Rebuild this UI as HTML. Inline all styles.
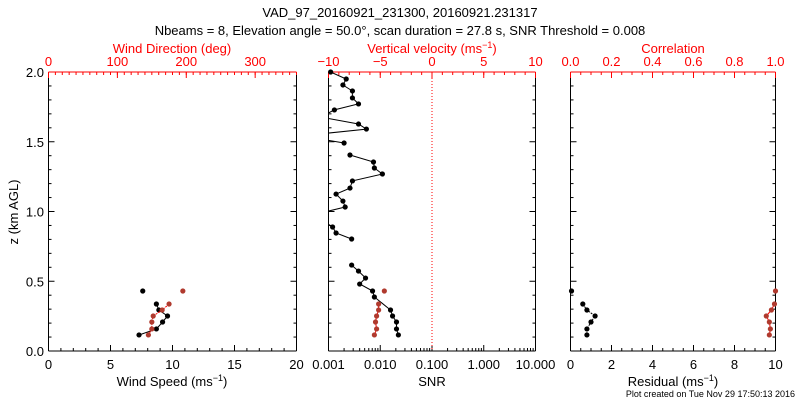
<!DOCTYPE html>
<html><head><meta charset="utf-8"><style>
body{margin:0;background:#fff;}
svg{display:block;font-family:"Liberation Sans",sans-serif;}
</style></head><body>
<svg id="chart" width="800" height="400" viewBox="0 0 800 400">
<rect width="800" height="400" fill="#fff"/>
<text x="400" y="17" text-anchor="middle" font-size="13">VAD_97_20160921_231300, 20160921.231317</text>
<text x="400" y="35" text-anchor="middle" font-size="13">Nbeams = 8, Elevation angle = 50.0°, scan duration = 27.8 s, SNR Threshold = 0.008</text>
<text x="795" y="397" text-anchor="end" font-size="9">Plot created on Tue Nov 29 17:50:13 2016</text>
</svg>
<script>
// ---- data ----
const windHeights = [0.430, 0.337, 0.294, 0.251, 0.208, 0.158, 0.115];
const windSpeed = [7.6, 8.7, 8.9, 9.6, 9.2, 8.7, 7.3];
const windDir = [195, 175, 165, 152, 150, 150, 145];
const snrHeights = [2.0,1.950,1.907,1.864,1.814,1.771,1.728,1.677,1.627,1.591,1.556,1.520,1.491,1.448,1.405,1.355,1.312,1.269,1.219,1.168,1.125,1.075,1.032,0.989,0.946,0.889,0.846,0.803,0.710,0.616,0.573,0.523,0.480,0.430,0.387,0.294,0.251,0.208,0.158,0.115];
const snrValues = [0.0011,0.0022,0.0019,0.0029,0.0029,0.0038,0.0013,0.0007,0.0038,0.0054,0.0007,0.0007,0.0020,null,0.0026,0.0074,0.0077,0.011,0.0029,0.0026,0.0014,0.0019,0.0021,0.0007,0.0007,0.0012,0.0014,0.0028,null,0.0028,0.0038,0.0052,0.0040,0.0071,0.0077,0.0158,0.0173,0.0206,0.0206,0.0224];
const snrRedHeights = [0.430, 0.337, 0.294, 0.251, 0.208, 0.158, 0.115];
const snrRedValues = [0.012, 0.0093, 0.0093, 0.0085, 0.0081, 0.0085, 0.0077];
const residual = [0.05, 0.6, 0.8, 1.2, 1.0, 0.8, 0.8];
const correlation = [1.0, 0.995, 0.98, 0.955, 0.97, 0.975, 0.97];
const yTicks = ["0.0","0.5","1.0","1.5","2.0"];
const p1Bottom = ["0","5","10","15","20"];
const p1Top = ["0","100","200","300"];
const p2Bottom = ["0.001","0.010","0.100","1.000","10.000"];
const p2Top = ["−10","−5","0","5","10"];
const p3Bottom = ["0","2","4","6","8","10"];
const p3Top = ["0.0","0.2","0.4","0.6","0.8","1.0"];

const svg = document.getElementById('chart');
const NS = 'http://www.w3.org/2000/svg';
const TOP = 72, BOT = 351;
const yS = z => BOT - z / 2 * (BOT - TOP);
function mk(tag, attrs, parent) {
  const e = document.createElementNS(NS, tag);
  for (const k in attrs) e.setAttribute(k, attrs[k]);
  (parent || svg).appendChild(e);
  return e;
}
function lin(x0, x1, a, b) { return v => x0 + (v - a) / (b - a) * (x1 - x0); }
const panels = [
  {x0: 48.5, x1: 296.5, name: 'wind'},
  {x0: 328.5, x1: 535.5, name: 'snr'},
  {x0: 570.5, x1: 775.5, name: 'residual'}
];
function axisTicks(g, xs, major, minor, col, bottom) {
  const y = bottom ? BOT : TOP, d = bottom ? -1 : 1;
  minor.forEach(v => mk('line', {x1: xs(v), x2: xs(v), y1: y, y2: y + d * 3, stroke: col, 'stroke-width': 1}, g));
  major.forEach(v => mk('line', {x1: xs(v), x2: xs(v), y1: y, y2: y + d * 6, stroke: col, 'stroke-width': 1}, g));
}
function range(a, b, s) { const r = []; for (let v = a; v <= b + 1e-9; v += s) r.push(+v.toFixed(6)); return r; }

panels.forEach((p, i) => {
  const g = mk('g', {});
  
  
  p.g = g;
  // y ticks
  range(0, 2, 0.1).forEach(z => {
    const L = Math.abs(z * 2 - Math.round(z * 2)) < 1e-6 ? 6 : 3;
    mk('line', {x1: p.x0, x2: p.x0 + L, y1: yS(z), y2: yS(z), stroke: '#000'}, g);
    mk('line', {x1: p.x1, x2: p.x1 - L, y1: yS(z), y2: yS(z), stroke: '#000'}, g);
  });
  mk('line', {x1: p.x0, x2: p.x0, y1: TOP, y2: BOT, stroke: '#000'}, g);
  mk('line', {x1: p.x1, x2: p.x1, y1: TOP, y2: BOT, stroke: '#000'}, g);
  mk('line', {x1: p.x0, x2: p.x1, y1: BOT, y2: BOT, stroke: '#000'}, g);
  mk('line', {x1: p.x0, x2: p.x1, y1: TOP, y2: TOP, stroke: '#f00'}, g);
});

// y labels
const yl = mk('g', {'font-size': 13, 'text-anchor': 'end'});


yTicks.forEach(t => { const e = mk('text', {x: 44, y: yS(+t) + 5}, yl); e.textContent = t; });
const yt = mk('text', {x: 0, y: 0, 'font-size': 13, 'text-anchor': 'middle', transform: 'translate(18,212) rotate(-90)'});
yt.textContent = 'z (km AGL)';



function labels(g, xs, vals, strs, y, col) {
  strs.forEach((s, k) => { const e = mk('text', {x: xs(vals[k]), y: y, 'text-anchor': 'middle', 'font-size': 13, fill: col}, g); e.textContent = s; });
}
function title(g, x, y, col, html, name) {
  const e = mk('text', {x: x, y: y, 'text-anchor': 'middle', 'font-size': 13, fill: col}, g);
  e.innerHTML = html;
  
  
}
function marker(g, x, y, col) { mk('circle', {cx: x, cy: y, r: 2.6, fill: col}, g); }
function series(g, xs, zs, vs, col, dash, breakFirst, clip) {
  let d = '';
  let pen = false;
  zs.forEach((z, k) => {
    const v = vs[k];
    if (v === null || (breakFirst && k === 0)) { pen = false; if (v !== null) {} return; }
    d += (pen ? 'L' : 'M') + xs(v).toFixed(1) + ' ' + yS(z).toFixed(1);
    pen = true;
  });
  const a = {d: d, fill: 'none', stroke: col, 'stroke-width': 1};
  if (dash) a['stroke-dasharray'] = '2 1';
  if (clip) a['clip-path'] = 'url(#' + clip + ')';
  mk('path', a, g);
  zs.forEach((z, k) => { const v = vs[k]; if (v === null) return; const x = xs(v); if (clip && x < xs.min - 0.5) return; marker(g, x, yS(z), col); });
}
const RED = '#f00', BR = '#b03a2e';

// Panel 1
{
  const p = panels[0], g = p.g;
  const xb = lin(p.x0, p.x1, 0, 20), xt = lin(p.x0, p.x1, 0, 360);
  axisTicks(g, xb, range(0, 20, 5), range(0, 20, 1), '#000', true);
  axisTicks(g, xt, range(0, 300, 100), range(0, 360, 10), RED, false);
  labels(g, xb, [0,5,10,15,20], p1Bottom, 369, '#000');
  labels(g, xt, [0,100,200,300], p1Top, 66, RED);
  title(g, 172, 386, '#000', 'Wind Speed (ms<tspan dy="-5" font-size="9">−1</tspan><tspan dy="5">)</tspan>', 'x-axis-title-wind-speed');
  title(g, 172, 53, RED, 'Wind Direction (deg)', 'x-axis-title-wind-direction');
  series(g, xb, windHeights, windSpeed, '#000', false, true);
  series(g, xt, windHeights, windDir, RED, true, true);
  g.lastChild && null;
  // recolor direction markers
  Array.from(g.querySelectorAll('circle')).slice(windHeights.length).forEach(c => c.setAttribute('fill', BR));
}
// Panel 2
{
  const p = panels[1], g = p.g;
  const xb = v => p.x0 + (Math.log10(v) + 3) / 4 * (p.x1 - p.x0);
  xb.min = p.x0;
  const xt = lin(p.x0, p.x1, -10, 10);
  const cp = mk('clipPath', {id: 'clip2'});
  mk('rect', {x: p.x0, y: TOP, width: p.x1 - p.x0, height: BOT - TOP}, cp);
  const maj = [0.001, 0.01, 0.1, 1, 10], mn = [];
  [0.001, 0.01, 0.1, 1].forEach(b => { for (let m = 2; m < 10; m++) mn.push(b * m); });
  axisTicks(g, xb, maj, mn, '#000', true);
  axisTicks(g, xt, range(-10, 10, 5), range(-10, 10, 1), RED, false);
  labels(g, xb, maj, p2Bottom, 369, '#000');
  labels(g, xt, [-10,-5,0,5,10], p2Top, 66, RED);
  title(g, 432, 386, '#000', 'SNR', 'x-axis-title-snr');
  title(g, 432, 53, RED, 'Vertical velocity (ms<tspan dy="-5" font-size="9">−1</tspan><tspan dy="5">)</tspan>', 'x-axis-title-vertical-velocity');
  mk('line', {x1: xt(0), x2: xt(0), y1: TOP, y2: BOT, stroke: RED, 'stroke-dasharray': '1 2'}, g);
  series(g, xb, snrHeights, snrValues, '#000', false, false, 'clip2');
  const rg = mk('g', {}, g);
  series(rg, xb, snrRedHeights, snrRedValues, RED, false, true);
  rg.querySelectorAll('circle').forEach(c => c.setAttribute('fill', BR));
}
// Panel 3
{
  const p = panels[2], g = p.g;
  const xb = lin(p.x0, p.x1, 0, 10), xt = lin(p.x0, p.x1, 0, 1);
  axisTicks(g, xb, range(0, 10, 2), range(0, 10, 0.5), '#000', true);
  axisTicks(g, xt, range(0, 1, 0.2), range(0, 1, 0.05), RED, false);
  labels(g, xb, [0,2,4,6,8,10], p3Bottom, 369, '#000');
  labels(g, xt, [0,0.2,0.4,0.6,0.8,1], p3Top, 66, RED);
  title(g, 673, 386, '#000', 'Residual (ms<tspan dy="-5" font-size="9">−1</tspan><tspan dy="5">)</tspan>', 'x-axis-title-residual');
  title(g, 673, 53, RED, 'Correlation', 'x-axis-title-correlation');
  series(g, xb, windHeights, residual, '#000', true, true);
  const rg = mk('g', {}, g);
  series(rg, xt, windHeights, correlation, RED, false, true);
  rg.querySelectorAll('circle').forEach(c => c.setAttribute('fill', BR));
}
</script>
</body></html>
